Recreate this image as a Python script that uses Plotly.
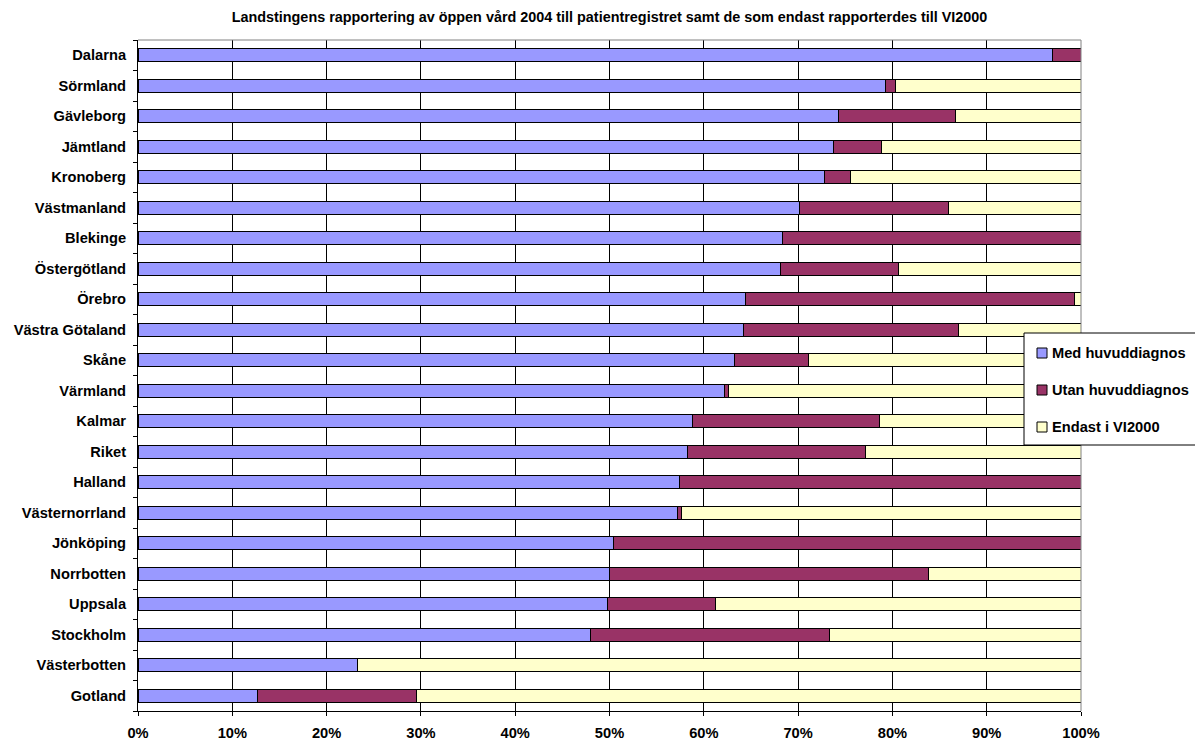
import plotly.graph_objects as go

# Landsting (top to bottom) and their shares of reported outpatient visits, in percent
landsting = [
    "Dalarna", "Sörmland", "Gävleborg", "Jämtland", "Kronoberg", "Västmanland",
    "Blekinge", "Östergötland", "Örebro", "Västra Götaland", "Skåne", "Värmland",
    "Kalmar", "Riket", "Halland", "Västernorrland", "Jönköping", "Norrbotten",
    "Uppsala", "Stockholm", "Västerbotten", "Gotland",
]
med_huvuddiagnos = [
    97.0, 79.3, 74.3, 73.8, 72.8, 70.1,
    68.3, 68.1, 64.4, 64.2, 63.3, 62.2,
    58.8, 58.3, 57.4, 57.2, 50.4, 50.0,
    49.8, 48.0, 23.3, 12.7,
]
utan_huvuddiagnos = [
    3.0, 1.0, 12.4, 5.0, 2.8, 15.8,
    31.7, 12.5, 34.9, 22.8, 7.8, 0.4,
    19.8, 18.8, 42.6, 0.4, 49.6, 33.8,
    11.4, 25.3, 0.0, 16.8,
]
endast_vi2000 = [
    0.0, 19.7, 13.3, 21.2, 24.4, 14.1,
    0.0, 19.4, 0.7, 13.0, 28.9, 37.4,
    21.4, 22.9, 0.0, 42.4, 0.0, 16.2,
    38.8, 26.7, 76.7, 70.5,
]
x_ticks = list(range(0, 101, 10))

series_names = ["Med huvuddiagnos", "Utan huvuddiagnos", "Endast i VI2000"]
series_colors = ["#9999FF", "#993366", "#FFFFCC"]
series_values = [med_huvuddiagnos, utan_huvuddiagnos, endast_vi2000]

FONT = "Arial, Liberation Sans, sans-serif"
FS = 14.67  # 11pt

W, H = 1195, 742
ML, MR, MT, MB = 138, 114, 40, 31
PW, PH = W - ML - MR, H - MT - MB


def px_x(px):
    return (px - ML) / PW


def px_y(py):
    return (H - MB - py) / PH


fig = go.Figure()
for name, vals, color in zip(series_names, series_values, series_colors):
    fig.add_trace(go.Bar(
        name=name,
        y=landsting,
        x=vals,
        orientation="h",
        marker=dict(color=color, line=dict(color="#000000", width=1)),
        showlegend=False,
    ))

fig.update_layout(
    width=W,
    height=H,
    barmode="stack",
    bargap=0.57,
    plot_bgcolor="#FFFFFF",
    paper_bgcolor="#FFFFFF",
    margin=dict(l=ML, r=MR, t=MT, b=MB, autoexpand=False),
    font=dict(family=FONT, size=FS, color="#000000"),
    title=dict(
        text="<b>Landstingens rapportering av öppen vård 2004 till patientregistret samt de som endast rapporterdes till VI2000</b>",
        x=0.5, xref="paper", xanchor="center",
        y=1 - 17 / H, yref="container", yanchor="middle",
        font=dict(family=FONT, size=14.4, color="#000000"),
    ),
    showlegend=False,
)

fig.update_xaxes(
    range=[0, 100],
    tickvals=x_ticks,
    ticktext=[f"<b>{v}%</b>" for v in x_ticks],
    showgrid=True, gridcolor="#000000", gridwidth=1,
    showline=True, linecolor="#000000", linewidth=1,
    ticks="outside", ticklen=4, tickcolor="#000000",
    tickfont=dict(family=FONT, size=FS, color="#000000"),
    ticklabelstandoff=4,
    zeroline=False,
    automargin=False,
    fixedrange=True,
)
fig.update_yaxes(
    autorange="reversed",
    categoryorder="array", categoryarray=landsting,
    tickvals=landsting,
    ticktext=[f"<b>{c}</b>" for c in landsting],
    showline=True, linecolor="#000000", linewidth=1,
    ticks="outside", ticklen=4, tickcolor="#000000", tickson="boundaries",
    tickfont=dict(family=FONT, size=FS, color="#000000"),
    ticklabelstandoff=8,
    showgrid=False,
    automargin=False,
    fixedrange=True,
)

# Gray frame along the top and right edges of the plot area
fig.add_shape(type="line", xref="paper", yref="paper", x0=0, x1=1, y0=1, y1=1,
              line=dict(color="#808080", width=1))
fig.add_shape(type="line", xref="paper", yref="paper", x0=1, x1=1, y0=0, y1=1,
              line=dict(color="#808080", width=1))

# Legend box with colour keys, placed over the right edge of the plot
fig.add_shape(type="rect", xref="paper", yref="paper",
              x0=px_x(1024), x1=px_x(1205), y0=px_y(445), y1=px_y(333),
              fillcolor="#FFFFFF", line=dict(color="#000000", width=1), layer="above")
for i, (name, color) in enumerate(zip(series_names, series_colors)):
    cy = 353 + 37 * i
    fig.add_shape(type="rect", xref="paper", yref="paper",
                  x0=px_x(1037), x1=px_x(1047), y0=px_y(cy + 5), y1=px_y(cy - 5),
                  fillcolor=color, line=dict(color="#000000", width=1), layer="above")
    fig.add_annotation(
        xref="paper", yref="paper", x=px_x(1050), y=px_y(cy),
        xanchor="left", yanchor="middle", showarrow=False,
        text=f"<b>{name}</b>",
        font=dict(family=FONT, size=FS, color="#000000"),
    )

fig.write_html("out.html", config={"displayModeBar": False})
